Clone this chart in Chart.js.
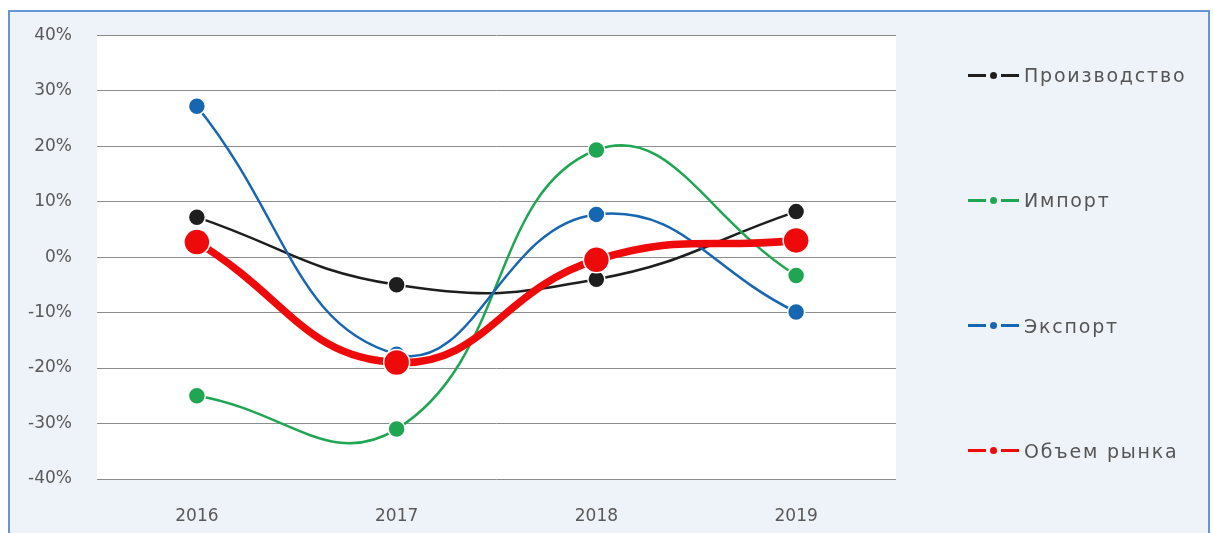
<!DOCTYPE html>
<html lang="ru">
<head>
    <meta charset="UTF-8">
    <title>Динамика рынка 2016-2019</title>
    <script src="https://cdn.jsdelivr.net/npm/chart.js"></script>
    <style>
        html, body { margin: 0; padding: 0; background: #ffffff; }
        #wrap { position: relative; width: 1214px; height: 533px; overflow: hidden; }
        #frame {
            position: absolute; left: 8px; top: 10px; width: 1202px; height: 530px;
            border: 2px solid #6496d6; background: #eef2f9; box-sizing: border-box;
        }
        #chart { position: absolute; left: 0; top: 0; }
        #legend {
            position: absolute; left: 968px; top: 63px; height: 400px;
            display: flex; flex-direction: column; justify-content: space-between;
            font-family: "DejaVu Sans", sans-serif; font-size: 19px; color: #555;
        }
        .item { display: flex; align-items: center; height: 24px; }
        .seg { display: inline-block; width: 18px; height: 3px; }
        .dot { display: inline-block; width: 7px; height: 7px; border-radius: 50%; margin: 0 4px; }
        .txt { margin-left: 5px; letter-spacing: 1.8px; }
    </style>
</head>
<body>
<div id="wrap">
    <div id="frame"></div>
    <canvas id="chart" width="1214" height="533"></canvas>
    <div id="legend"></div>
</div>

<script>
    const years = ['2016', '2017', '2018', '2019'];
    const production = [7.2, -5.0, -4.0, 8.2];
    const imports = [-25.0, -31.0, 19.3, -3.3];
    const exports = [27.2, -17.5, 7.7, -9.9];
    const marketVolume = [2.7, -19.0, -0.5, 3.0];

    const seriesNames = ['Производство', 'Импорт', 'Экспорт', 'Объем рынка'];
    const seriesColors = ['#1e1e1e', '#1fa652', '#1766b2', '#ee0a0a'];

    function line(label, data, color, big, order) {
        return {
            label: label,
            data: data,
            borderColor: color,
            backgroundColor: color,
            borderWidth: big ? 7.5 : 2.5,
            pointRadius: big ? 13 : 8.5,
            pointBorderWidth: 1.5,
            pointBorderColor: '#ffffff',
            pointBackgroundColor: color,
            tension: 0.45,
            order: order
        };
    }

    // white plot area
    const plotBg = {
        id: 'plotBg',
        beforeDraw(chart) {
            const a = chart.chartArea, ctx = chart.ctx;
            ctx.save();
            ctx.fillStyle = '#ffffff';
            ctx.fillRect(a.left, a.top, a.right - a.left, a.bottom - a.top);
            ctx.restore();
        }
    };

    const chart = new Chart(document.getElementById('chart'), {
        type: 'line',
        data: {
            labels: years,
            datasets: [
                line(seriesNames[0], production, seriesColors[0], false, 3),
                line(seriesNames[1], imports, seriesColors[1], false, 2),
                line(seriesNames[2], exports, seriesColors[2], false, 1),
                line(seriesNames[3], marketVolume, seriesColors[3], true, 0)
            ]
        },
        options: {
            responsive: false,
            animation: false,
            clip: false,
            layout: { padding: { top: 33, right: 318, bottom: 0, left: 0 } },
            plugins: { legend: { display: false }, tooltip: { enabled: false } },
            scales: {
                x: {
                    offset: true,
                    grid: { display: false },
                    border: { display: false },
                    ticks: { padding: 19, color: '#595959', font: { family: 'DejaVu Sans', size: 17 } },
                    afterFit(scale) { scale.height = 54; }
                },
                y: {
                    min: -40, max: 40,
                    ticks: {
                        stepSize: 10, padding: 25, color: '#595959',
                        font: { family: 'DejaVu Sans', size: 17 },
                        callback: v => v + '%'
                    },
                    grid: { color: '#8c8c8c', lineWidth: 1, drawTicks: false },
                    border: { display: false },
                    afterFit(scale) { scale.width = 97; }
                }
            }
        },
        plugins: [plotBg]
    });

    // legend: line-dot-line markers
    const legend = document.getElementById('legend');
    seriesNames.forEach((name, i) => {
        const c = seriesColors[i];
        const item = document.createElement('div');
        item.className = 'item';
        item.innerHTML =
            '<span class="seg" style="background:' + c + '"></span>' +
            '<span class="dot" style="background:' + c + '"></span>' +
            '<span class="seg" style="background:' + c + '"></span>' +
            '<span class="txt">' + name + '</span>';
        legend.appendChild(item);
    });
</script>
</body>
</html>
